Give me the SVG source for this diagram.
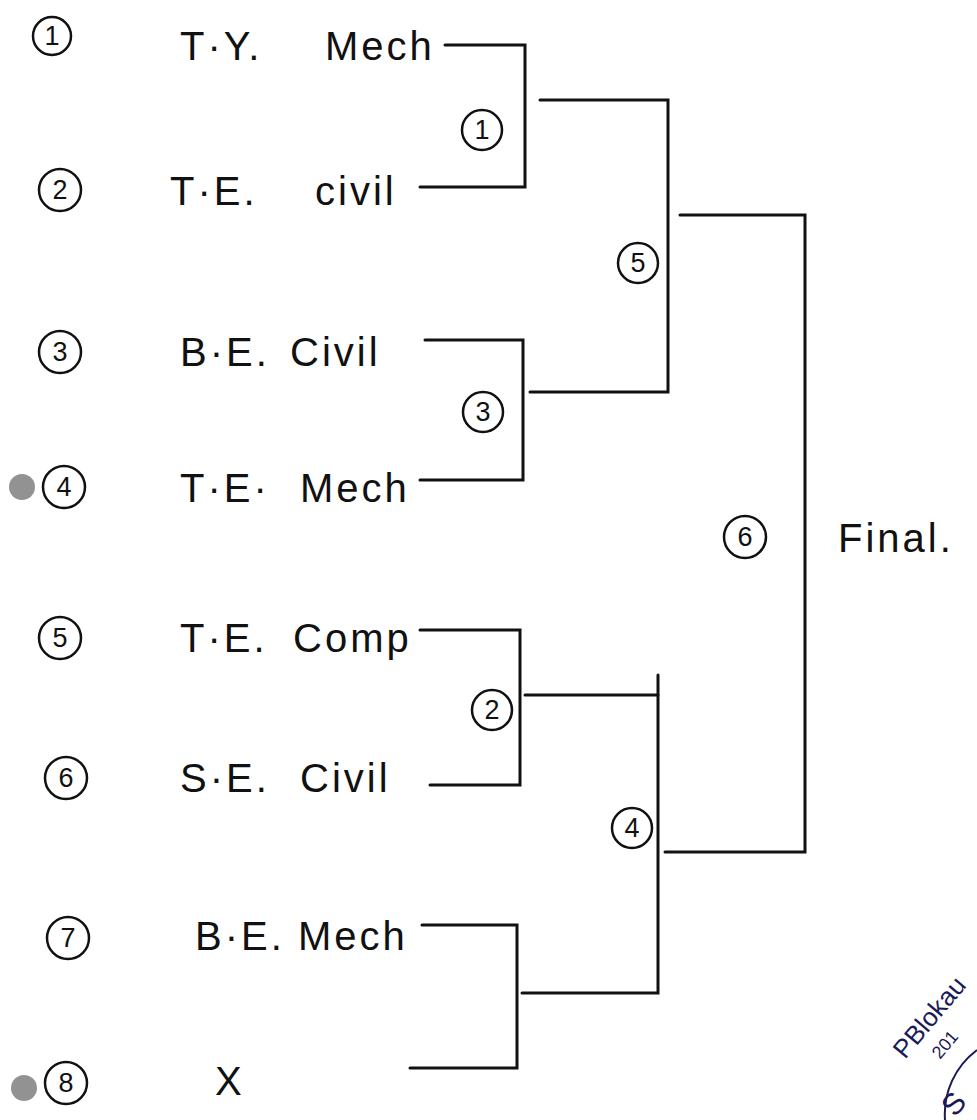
<svg xmlns="http://www.w3.org/2000/svg" width="977" height="1120" viewBox="0 0 977 1120">
<style>
.t{font-family:"Liberation Sans",Arial,sans-serif;font-size:40px;fill:#111;letter-spacing:3px}
.n{font-family:"Liberation Sans",Arial,sans-serif;font-size:27px;fill:#111;text-anchor:middle}
.c{fill:none;stroke:#111;stroke-width:2.5}
.l{fill:none;stroke:#111;stroke-width:3;stroke-linecap:round}
</style>
<rect width="977" height="1120" fill="#fff"/>
<circle cx="22" cy="487" r="13" fill="#777" opacity="0.8"/>
<circle cx="24" cy="1088" r="13" fill="#777" opacity="0.8"/>
<g id="seeds">
<g id="s1"><circle class="c" cx="52" cy="36" r="19"/><text class="n" x="52" y="45">1</text></g>
<g id="s2"><circle class="c" cx="60" cy="190" r="21"/><text class="n" x="60" y="199">2</text></g>
<g id="s3"><circle class="c" cx="60" cy="352" r="21"/><text class="n" x="60" y="361">3</text></g>
<g id="s4"><circle class="c" cx="64" cy="487" r="21"/><text class="n" x="64" y="496">4</text></g>
<g id="s5"><circle class="c" cx="60" cy="638" r="21"/><text class="n" x="60" y="647">5</text></g>
<g id="s6"><circle class="c" cx="66" cy="778" r="21"/><text class="n" x="66" y="787">6</text></g>
<g id="s7"><circle class="c" cx="68" cy="938" r="21"/><text class="n" x="68" y="947">7</text></g>
<g id="s8"><circle class="c" cx="66" cy="1083" r="21"/><text class="n" x="66" y="1092">8</text></g>
</g>
<g id="teams">
<text class="t" x="180" y="60">T·Y.</text><text class="t" x="325" y="60">Mech</text>
<text class="t" x="170" y="205">T·E.</text><text class="t" x="315" y="205">civil</text>
<text class="t" x="180" y="366">B·E.</text><text class="t" x="290" y="366">Civil</text>
<text class="t" x="180" y="502">T·E·</text><text class="t" x="300" y="502">Mech</text>
<text class="t" x="180" y="652">T·E.</text><text class="t" x="293" y="652">Comp</text>
<text class="t" x="180" y="792">S·E.</text><text class="t" x="300" y="792">Civil</text>
<text class="t" x="195" y="950">B·E.</text><text class="t" x="298" y="950">Mech</text>
<text class="t" x="215" y="1095">X</text>
</g>
<g id="matches">
<g id="m1"><circle class="c" cx="482" cy="130" r="20"/><text class="n" x="482" y="139">1</text></g>
<g id="m3"><circle class="c" cx="483" cy="412" r="20"/><text class="n" x="483" y="421">3</text></g>
<g id="m5"><circle class="c" cx="638" cy="263" r="20"/><text class="n" x="638" y="272">5</text></g>
<g id="m2"><circle class="c" cx="492" cy="710" r="20"/><text class="n" x="492" y="719">2</text></g>
<g id="m4"><circle class="c" cx="632" cy="828" r="20"/><text class="n" x="632" y="837">4</text></g>
<g id="m6"><circle class="c" cx="745" cy="537" r="21"/><text class="n" x="745" y="546">6</text><text class="t" x="838" y="552">Final.</text></g>
</g>
<g id="connectors">
<path class="l" d="M445 45 H525 V187 H420"/>
<path class="l" d="M540 100 H668 V392 H530"/>
<path class="l" d="M425 340 H523 V480 H420"/>
<path class="l" d="M680 215 H805 V852 H665"/>
<path class="l" d="M420 630 H520 V785 H430"/>
<path class="l" d="M525 695 H658"/>
<path class="l" d="M658 675 V993 H522"/>
<path class="l" d="M422 925 H517 V1068 H410"/>
</g>
<g id="stamp">
<text x="905" y="1060" transform="rotate(-50 905 1060)" font-family="Liberation Sans,Arial,sans-serif" font-size="26" fill="#1a1a5a">PBlokau</text>
<text x="940" y="1060" transform="rotate(-50 940 1060)" font-family="Liberation Sans,Arial,sans-serif" font-size="18" fill="#1a1a5a">201</text>
<path d="M945 1120 A80 80 0 0 1 977 1050" fill="none" stroke="#1a1a5a" stroke-width="2"/>
<text x="955" y="1118" transform="rotate(-50 955 1118)" font-family="Liberation Sans,Arial,sans-serif" font-size="30" fill="#1a1a5a">S</text>
</g>
</svg>
